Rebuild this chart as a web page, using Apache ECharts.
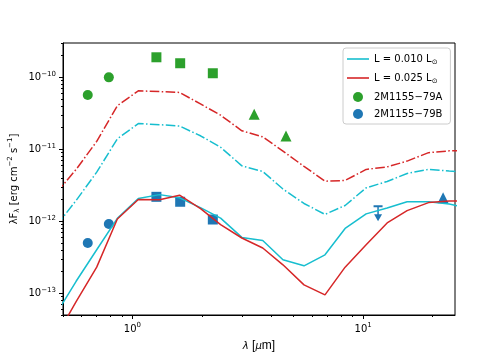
<!DOCTYPE html>
<html>
<head>
<meta charset="utf-8">
<script src="https://cdn.jsdelivr.net/npm/echarts@6/dist/echarts.min.js"></script>
<style>
html, body { margin: 0; padding: 0; background: #fff; }
#main { width: 504px; height: 360px; }
</style>
</head>
<body>
<div id="main"></div>
<script>
// model wavelength grid (micron)
var lam = [0.47, 0.57, 0.70, 0.86, 1.06, 1.31, 1.60, 1.98, 2.41, 2.98, 3.67, 4.49, 5.54, 6.83, 8.35, 10.3, 12.7, 15.5, 19.2, 23.6, 29.2];
// model SEDs, L = 0.010 Lsun (cyan) and 0.025 Lsun (red)
var cyanSolid = [5.36e-14, 1.47e-13, 4.03e-13, 1.10e-12, 2.07e-12, 2.35e-12, 2.12e-12, 1.54e-12, 1.11e-12, 5.98e-13, 5.43e-13, 2.92e-13, 2.41e-13, 3.43e-13, 7.96e-13, 1.27e-12, 1.53e-12, 1.87e-12, 1.87e-12, 1.74e-12, 1.50e-12];
var redSolid = [2.6e-14, 7.65e-14, 2.31e-13, 1.08e-12, 2.01e-12, 2.00e-12, 2.31e-12, 1.49e-12, 9.0e-13, 5.87e-13, 4.26e-13, 2.49e-13, 1.31e-13, 9.5e-14, 2.31e-13, 4.73e-13, 9.5e-13, 1.41e-12, 1.82e-12, 1.91e-12, 1.93e-12];
var cyanDash = [8.85e-13, 1.95e-12, 4.82e-12, 1.40e-11, 2.28e-11, 2.20e-11, 2.11e-11, 1.53e-11, 1.07e-11, 5.89e-12, 4.93e-12, 2.81e-12, 1.77e-12, 1.25e-12, 1.66e-12, 2.92e-12, 3.58e-12, 4.62e-12, 5.26e-12, 5.00e-12, 4.80e-12];
var redDash = [2.53e-12, 5.26e-12, 1.29e-11, 4.04e-11, 6.50e-11, 6.34e-11, 6.18e-11, 4.24e-11, 2.98e-11, 1.81e-11, 1.49e-11, 9.46e-12, 5.80e-12, 3.61e-12, 3.70e-12, 5.26e-12, 5.70e-12, 6.87e-12, 9.00e-12, 9.53e-12, 9.60e-12];

// photometry
var optX = [0.64, 0.79];
var nirX = [1.27, 1.61, 2.23];
var wiseX = [3.37, 4.63];
var aOpt = [5.7e-11, 1.0e-10];
var aNir = [1.9e-10, 1.57e-10, 1.14e-10];
var aWise = [3.08e-11, 1.53e-11];
var bOpt = [5.0e-13, 9.2e-13];
var bNir = [2.19e-12, 1.87e-12, 1.06e-12];
var bW4X = [22.2];
var bW4 = [2.12e-12];
var bW3X = [11.6];
var bW3Lim = [1.62e-12];

var xMajor = [1, 10];
var yMajor = [1e-13, 1e-12, 1e-11, 1e-10];

var C_CYAN = '#17becf', C_RED = '#d62728', C_GREEN = '#2ca02c', C_BLUE = '#1f77b4';
var FONT = 'DejaVu Sans';
var LINE_ICON = 'path://M0,0 L22,0 L22,1.6 L0,1.6 Z';

function pairs(xs, ys) {
    return xs.map(function (x, i) { return [x, ys[i]]; });
}
function marks(xs, ys, sym, size) {
    return xs.map(function (x, i) { return { value: [x, ys[i]], symbol: sym, symbolSize: size }; });
}

// minor tick positions 2..9 x 10^n
var xMinor = [], yMinor = [];
for (var e = -1; e <= 1; e++) for (var m = 2; m <= 9; m++) {
    var v = m * Math.pow(10, e);
    if (v >= 0.5 && v <= 25) xMinor.push(v);
}
for (var e2 = -14; e2 <= -10; e2++) for (var m2 = 2; m2 <= 9; m2++) {
    var v2 = m2 * Math.pow(10, e2);
    if (v2 >= 5e-14 && v2 <= 3e-10) yMinor.push(v2);
}

var rich = {
    b: { fontSize: 10, fontFamily: FONT, color: '#000', lineHeight: 14 },
    sup: { fontSize: 7, fontFamily: FONT, color: '#000', lineHeight: 7, verticalAlign: 'top' },
    sub: { fontSize: 7, fontFamily: FONT, color: '#000', lineHeight: 7, verticalAlign: 'bottom' },
    i: { fontSize: 10, fontFamily: FONT, fontStyle: 'italic', color: '#000', lineHeight: 14 }
};
function powLabel(v) {
    var p = Math.round(Math.log10(v));
    return '{b|10}{sup|' + String(p).replace('-', '\u2212') + '}';
}

var chart = echarts.init(document.getElementById('main'));
chart.setOption({
    animation: false,
    backgroundColor: '#fff',
    grid: {
        left: 63, right: 49, top: 43, bottom: 45,
        show: true, borderColor: '#000', borderWidth: 1,
        outerBoundsMode: 'none'
    },
    legend: {
        orient: 'vertical',
        left: 343, top: 48,
        padding: [6, 8, 5, 4],
        itemWidth: 22, itemHeight: 10, itemGap: 7,
        borderColor: '#cccccc', borderWidth: 1, borderRadius: 3,
        backgroundColor: 'rgba(255,255,255,0.8)',
        data: [
            { name: 'L = 0.010 L\u2299', icon: LINE_ICON },
            { name: 'L = 0.025 L\u2299', icon: LINE_ICON },
            { name: '2M1155\u221279A', icon: 'circle' },
            { name: '2M1155\u221279B', icon: 'circle' }
        ],
        formatter: function (name) {
            return name.indexOf('\u2299') > -1 ? '{b|' + name.replace(' L\u2299', ' L') + '}{sub|\u2299}' : '{b|' + name + '}';
        },
        textStyle: { fontFamily: FONT, fontSize: 10, color: '#000', rich: rich }
    },
    xAxis: [{
        type: 'log', logBase: 10, min: 0.5, max: 25,
        position: 'bottom',
        name: '{i|\u03bb} [{i|\u03bc}m]', nameLocation: 'middle', nameGap: 24,
        nameTextStyle: { rich: rich },
        axisLine: { lineStyle: { color: '#000', width: 1 } },
        axisTick: { customValues: xMajor, length: 4, lineStyle: { color: '#000' } },
        axisLabel: { customValues: xMajor, formatter: powLabel, rich: rich, margin: 7 },
        splitLine: { show: false }
    }, {
        type: 'log', logBase: 10, min: 0.5, max: 25,
        position: 'bottom',
        axisLine: { show: false },
        axisTick: { customValues: xMinor, length: 2, lineStyle: { color: '#000' } },
        axisLabel: { show: false },
        splitLine: { show: false }
    }],
    yAxis: [{
        type: 'log', logBase: 10, min: 5e-14, max: 3e-10,
        position: 'left',
        name: '{b|\u03bbF}{sub|\u03bb}{b| [erg cm}{sup|\u22122}{b| s}{sup|\u22121}{b|]}',
        nameLocation: 'middle', nameGap: 42, nameMoveOverlap: false,
        nameTextStyle: { rich: rich },
        axisLine: { lineStyle: { color: '#000', width: 1 } },
        axisTick: { customValues: yMajor, length: 4, lineStyle: { color: '#000' } },
        axisLabel: { customValues: yMajor, formatter: powLabel, rich: rich, margin: 7 },
        splitLine: { show: false }
    }, {
        type: 'log', logBase: 10, min: 5e-14, max: 3e-10,
        position: 'left',
        axisLine: { show: false },
        axisTick: { customValues: yMinor, length: 2, lineStyle: { color: '#000' } },
        axisLabel: { show: false },
        splitLine: { show: false }
    }],
    series: [
        {
            name: '2M1155\u221279A', type: 'scatter', z: 2,
            itemStyle: { color: C_GREEN, opacity: 1 },
            symbol: 'circle', symbolSize: 10,
            data: marks(optX, aOpt, 'circle', 10)
                .concat(marks(nirX, aNir, 'rect', 10))
                .concat(marks(wiseX, aWise, 'triangle', 11))
        },
        {
            name: '2M1155\u221279B', type: 'scatter', z: 2,
            itemStyle: { color: C_BLUE, opacity: 1 },
            symbol: 'circle', symbolSize: 10,
            data: marks(optX, bOpt, 'circle', 10)
                .concat(marks(nirX, bNir, 'rect', 10))
                .concat(marks(bW4X, bW4, 'triangle', 11))
        },
        {
            // W3 upper limit for B
            name: 'B W3 limit', type: 'line', z: 2,
            lineStyle: { color: C_BLUE, width: 1.5 },
            itemStyle: { color: C_BLUE },
            showSymbol: true,
            data: [
                { value: [bW3X[0], bW3Lim[0]], symbol: 'rect', symbolSize: [9, 2] },
                { value: [bW3X[0], bW3Lim[0] / 1.45], symbol: 'triangle', symbolSize: [8, 7], symbolRotate: 180 }
            ]
        },
        {
            name: 'L = 0.010 L\u2299', type: 'line', z: 3, symbol: 'none',
            lineStyle: { color: C_CYAN, width: 1.5 }, itemStyle: { color: C_CYAN },
            data: pairs(lam, cyanSolid)
        },
        {
            name: 'L = 0.025 L\u2299', type: 'line', z: 3, symbol: 'none',
            lineStyle: { color: C_RED, width: 1.5 }, itemStyle: { color: C_RED },
            data: pairs(lam, redSolid)
        },
        {
            name: 'cyan dash-dot', type: 'line', z: 3, symbol: 'none',
            lineStyle: { color: C_CYAN, width: 1.5, type: [9.6, 2.4, 1.5, 2.4] },
            data: pairs(lam, cyanDash)
        },
        {
            name: 'red dash-dot', type: 'line', z: 3, symbol: 'none',
            lineStyle: { color: C_RED, width: 1.5, type: [9.6, 2.4, 1.5, 2.4] },
            data: pairs(lam, redDash)
        }
    ]
});
</script>
</body>
</html>
